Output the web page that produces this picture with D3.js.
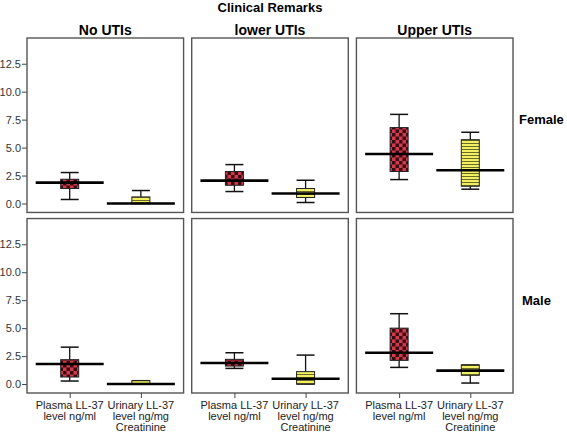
<!DOCTYPE html>
<html><head><meta charset="utf-8">
<script src="https://cdn.jsdelivr.net/npm/d3@7"></script>
<style>body{margin:0;background:#fff}svg{display:block}</style>
</head><body>
<script>
// ---- data ----
const columns = ["No UTIs", "lower UTIs", "Upper UTIs"];
const rows = ["Female", "Male"];
const variables = ["Plasma LL-37 level ng/ml", "Urinary LL-37 level ng/mg Creatinine"];
const varLabels = [["Plasma LL-37", "level ng/ml"], ["Urinary LL-37", "level ng/mg", "Creatinine"]];
const yTicks = [0.0, 2.5, 5.0, 7.5, 10.0, 12.5];
// [whiskerLow, q1, median, q3, whiskerHigh] per row, column, variable
const femalePlasma  = [[0.36, 1.34, 1.87, 2.17, 2.77], [1.07, 1.63, 2.05, 2.86, 3.48], [2.14, 2.86, 4.43, 6.79, 7.97]];
const femaleUrinary = [[0.0, 0.05, 0.0, 0.59, 1.16], [0.09, 0.54, 0.89, 1.34, 2.08], [1.28, 1.54, 2.97, 5.71, 6.37]];
const malePlasma    = [[0.27, 0.63, 1.79, 2.18, 3.30], [1.40, 1.61, 1.88, 2.21, 2.80], [1.49, 2.12, 2.80, 5.00, 6.29]];
const maleUrinary   = [[0.0, 0.0, 0.0, 0.3, 0.3], [0.0, 0.0, 0.48, 1.11, 2.59], [0.09, 0.78, 1.20, 1.70, 1.70]];
const seriesByRow = [[femalePlasma, femaleUrinary], [malePlasma, maleUrinary]];

const W = 567, H = 432;
const svg = d3.select("body").append("svg").attr("width", W).attr("height", H);
const defs = svg.append("defs");
const chk = defs.append("pattern").attr("id", "checker").attr("patternUnits", "userSpaceOnUse")
  .attr("width", 7).attr("height", 7);
chk.append("rect").attr("width", 7).attr("height", 7).attr("fill", "#d23a4e");
chk.append("rect").attr("width", 3.5).attr("height", 3.5).attr("fill", "#3b0b12");
chk.append("rect").attr("x", 3.5).attr("y", 3.5).attr("width", 3.5).attr("height", 3.5).attr("fill", "#3b0b12");
const str = defs.append("pattern").attr("id", "stripes").attr("patternUnits", "userSpaceOnUse")
  .attr("width", 6).attr("height", 3);
str.append("rect").attr("width", 6).attr("height", 3).attr("fill", "#f2f060");
str.append("rect").attr("y", 2).attr("width", 6).attr("height", 1).attr("fill", "#6a6a28");
const fills = ["url(#checker)", "url(#stripes)"];

const font = "Liberation Sans, Arial, sans-serif";
const colX = d3.scaleBand().domain(columns).range([27, 513]).paddingInner(8 / 162);
const rowY = d3.scaleBand().domain(rows).range([38, 393]).paddingInner(6 / 178);

svg.append("text").attr("x", 270).attr("y", 12).attr("text-anchor", "middle")
  .attr("font-family", font).attr("font-weight", "bold").attr("font-size", 13).text("Clinical Remarks");

columns.forEach(c => {
  svg.append("text").attr("x", colX(c) + colX.bandwidth() / 2).attr("y", 35).attr("text-anchor", "middle")
    .attr("font-family", font).attr("font-weight", "bold").attr("font-size", 14).text(c);
});
rows.forEach(r => {
  svg.append("text").attr("x", r === "Female" ? 519 : 522).attr("y", rowY(r) + 86).attr("font-family", font)
    .attr("font-weight", "bold").attr("font-size", 13).text(r);
});

rows.forEach((r, ri) => {
  const top = rowY(r), bot = top + rowY.bandwidth();
  const y = d3.scaleLinear().domain([-0.8, 14.8]).range([bot, top]);
  const ax = svg.append("g").attr("transform", `translate(27,0)`)
    .call(d3.axisLeft(y).tickValues(yTicks).tickFormat(d3.format(".1f")).tickSize(5).tickPadding(1));
  ax.select(".domain").remove();
  ax.selectAll("text").attr("font-family", font).attr("font-size", 11).attr("fill", "#333");
  ax.selectAll("line").attr("stroke", "#444");

  columns.forEach((c, ci) => {
    const x0 = colX(c), w = colX.bandwidth();
    const x = d3.scalePoint().domain(variables).range([x0, x0 + w]).padding(0.6);
    const g = svg.append("g");
    variables.forEach((v, vi) => {
      const [wl, q1, md, q3, wh] = seriesByRow[ri][vi][ci];
      const cx = x(v);
      g.append("line").attr("x1", cx).attr("x2", cx).attr("y1", y(wl)).attr("y2", y(wh))
        .attr("stroke", "#111").attr("stroke-width", 1.3);
      [wl, wh].forEach(val => g.append("line").attr("x1", cx - 9).attr("x2", cx + 9)
        .attr("y1", y(val)).attr("y2", y(val)).attr("stroke", "#111").attr("stroke-width", 1.5));
      g.append("rect").attr("x", cx - 9).attr("width", 18).attr("y", y(q3))
        .attr("height", Math.max(1, y(q1) - y(q3))).attr("fill", fills[vi])
        .attr("stroke", "#222").attr("stroke-width", 1);
      g.append("line").attr("x1", cx - 34).attr("x2", cx + 34).attr("y1", y(md)).attr("y2", y(md))
        .attr("stroke", "#000").attr("stroke-width", 2.6);
    });
    svg.append("rect").attr("x", x0).attr("y", top).attr("width", w).attr("height", bot - top)
      .attr("fill", "none").attr("stroke", "#555").attr("stroke-width", 1.4);
    if (ri === 1) {
      const xa = svg.append("g").attr("transform", `translate(0,${bot})`)
        .call(d3.axisBottom(x).tickSize(5).tickFormat(""));
      xa.select(".domain").remove();
      xa.selectAll("line").attr("stroke", "#444");
      variables.forEach((v, vi) => {
        const t = svg.append("text").attr("x", x(v)).attr("y", bot + 16).attr("text-anchor", "middle")
          .attr("font-family", font).attr("font-size", 11).attr("fill", "#222");
        varLabels[vi].forEach((ln, li) => t.append("tspan").attr("x", x(v)).attr("dy", li ? 11 : 0).text(ln));
      });
    }
  });
});
</script>
</body></html>
